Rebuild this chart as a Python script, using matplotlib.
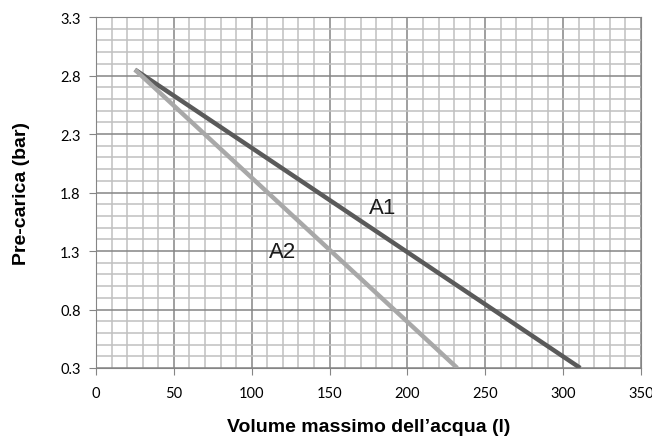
import matplotlib
matplotlib.use("Agg")
import matplotlib.pyplot as plt
import numpy as np

# data
a1_x = [25, 311]
a1_y = [2.85, 0.3]
a2_x = [25, 232]
a2_y = [2.85, 0.3]

x_ticks = [0, 50, 100, 150, 200, 250, 300, 350]
y_ticks = [0.3, 0.8, 1.3, 1.8, 2.3, 2.8, 3.3]

fig = plt.figure(figsize=(6.52, 4.39), dpi=100)
ax = fig.add_axes([96 / 652, 1 - 369 / 439, 545 / 652, 351 / 439])

# grid
ax.set_xticks(np.arange(0, 351, 10), minor=True)
ax.set_yticks(np.arange(0.3, 3.31, 0.1), minor=True)
ax.grid(which="minor", color="#c0c0c0", linewidth=1.1)
ax.grid(which="major", color="#858585", linewidth=1.1)
ax.set_axisbelow(True)

ax.plot(a1_x, a1_y, color="#5a5a5a", linewidth=3.2, solid_capstyle="butt")
ax.plot(a2_x, a2_y, color="#a8a8a8", linewidth=3.2, solid_capstyle="butt")

ax.text(184, 1.67, "A1", fontsize=16, family="Liberation Sans", color="#1a1a1a",
        ha="center", va="center")
ax.text(120, 1.30, "A2", fontsize=16, family="Liberation Sans", color="#1a1a1a",
        ha="center", va="center")

ax.set_xlim(0, 350)
ax.set_ylim(0.3, 3.3)
ax.set_xticks(x_ticks)
ax.set_yticks(y_ticks)
ax.set_xticklabels([str(v) for v in x_ticks], family="Lato")
ax.set_yticklabels([f"{v:.1f}" for v in y_ticks], family="Lato")
ax.tick_params(which="major", length=5, color="#858585", labelsize=10.5, pad=8)
ax.tick_params(which="minor", length=0)
ax.tick_params(axis="y", pad=6)

for side in ax.spines:
    ax.spines[side].set_color("#858585")

lab_font = dict(family="Liberation Sans", weight="bold", fontsize=14)
ax.set_xlabel("Volume massimo dell\u2019acqua (l)", labelpad=13, **lab_font)
ax.set_ylabel("Pre-carica (bar)", labelpad=22, **lab_font)

fig.savefig("out.png", dpi=100)
